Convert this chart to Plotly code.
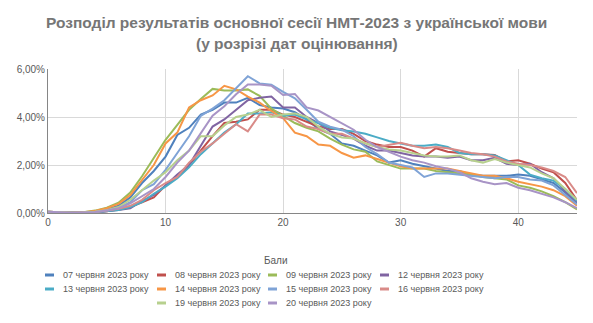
import plotly.graph_objects as go

scores = list(range(46))

names = ["07 червня 2023 року", "08 червня 2023 року", "09 червня 2023 року", "12 червня 2023 року",
         "13 червня 2023 року", "14 червня 2023 року", "15 червня 2023 року", "16 червня 2023 року",
         "19 червня 2023 року", "20 червня 2023 року"]

colors = ["#4F81BD", "#C0504D", "#9BBB59", "#8064A2", "#4BACC6", "#F79646",
          "#7FA3D6", "#D98B88", "#B7D08E", "#A894C6"]

title_lines = ["Розподіл результатів основної сесії НМТ-2023 з української мови",
               "(у розрізі дат оцінювання)"]

s07 = [0.05,0.02,0.01,0.02,0.05,0.15, 0.3,0.65,1.25,1.75,2.35,3.25,3.55,
       4.1,4.3,4.6,4.6,4.8,4.5,4.4, 4.35,4.2,3.9,3.5,3.3,2.9,2.8,2.6,
       2.4,2.1,2.2,2.05,1.95,1.85,1.75,1.75, 1.6,1.55,1.55,1.55,1.6,1.55,1.4,1.25,0.85,0.4]
s08 = [0.04,0.02,0.01,0.01,0.03,0.07, 0.15,0.25,0.45,0.65,1.15,1.5,2.0,
       2.6,3.2,3.75,3.8,3.9,4.3,4.3, 4.1,4.0,3.8,3.6,3.5,3.5,3.3,3.0,
       2.85,2.75,2.75,2.6,2.35,2.7,2.55,2.5, 2.45,2.45,2.42,2.15,2.2,2.05,1.85,1.7,1.25,0.53]
s09 = [0.05,0.02,0.01,0.03,0.1,0.22, 0.43,0.85,1.53,2.29,3.05,3.67,4.3,
       4.75,5.17,5.1,5.1,5.15,4.88,4.35, 4.05,3.75,3.55,3.4,3.1,2.85,2.65,2.55,
       2.15,2.0,1.85,1.85,1.85,1.75,1.7,1.65, 1.6,1.5,1.45,1.4,1.15,1.05,0.9,0.7,0.45,0.15]
s12 = [0.04,0.02,0.01,0.01,0.03,0.06, 0.12,0.2,0.5,0.75,1.15,1.6,2.0,
       2.8,3.6,3.9,4.3,4.7,4.8,4.85, 4.4,4.4,4.0,3.75,3.4,3.25,3.1,2.8,
       2.6,2.6,2.5,2.4,2.35,2.35,2.3,2.35, 2.2,2.2,2.3,2.05,2.0,2.05,1.7,1.45,0.9,0.45]
s13 = [0.04,0.02,0.01,0.01,0.03,0.06, 0.12,0.25,0.45,0.8,1.1,1.45,1.9,
       2.45,2.9,3.35,3.7,4.15,4.15,4.2, 4.05,4.1,3.9,3.75,3.55,3.45,3.4,3.3,
       3.15,3.0,2.9,2.8,2.8,2.85,2.75,2.5, 2.45,2.45,2.4,2.2,2.0,1.6,1.45,1.35,1.0,0.5]
s14 = [0.05,0.02,0.01,0.03,0.08,0.2, 0.38,0.75,1.4,2.0,2.9,3.35,4.4,
       4.7,4.9,5.3,5.15,4.85,4.6,4.25, 3.95,3.35,3.2,2.85,2.8,2.5,2.3,2.4,
       2.25,2.1,1.95,1.85,1.85,1.85,1.85,1.75, 1.65,1.55,1.55,1.45,1.3,1.2,1.1,0.95,0.7,0.3]
s15 = [0.05,0.02,0.01,0.02,0.04,0.1, 0.2,0.45,0.95,1.2,1.8,2.5,3.2,
       4.05,4.35,4.7,5.2,5.7,5.4,5.35, 5.05,4.78,4.3,3.8,3.6,3.47,3.2,2.75,
       2.45,2.1,2.0,1.9,1.5,1.65,1.65,1.6, 1.55,1.5,1.45,1.5,1.5,1.4,1.35,1.15,0.75,0.35]
s16 = [0.05,0.02,0.01,0.02,0.04,0.1, 0.18,0.3,0.55,0.95,1.25,1.5,2.1,
       2.55,2.9,3.3,3.7,3.4,4.1,4.1, 3.95,3.9,3.6,3.5,3.3,3.3,3.1,2.9,
       2.75,2.85,2.93,2.8,2.7,2.75,2.7,2.6, 2.5,2.45,2.35,2.15,2.05,2.0,1.9,1.75,1.5,0.83]
s19 = [0.05,0.02,0.01,0.02,0.05,0.12, 0.25,0.55,0.95,1.35,1.7,2.2,2.6,
       3.2,3.2,3.65,4.0,4.1,4.3,4.0, 4.1,4.15,4.0,3.6,3.3,3.15,3.1,2.9,
       2.75,2.65,2.6,2.5,2.4,2.35,2.35,2.4, 2.2,2.1,2.25,2.1,2.0,1.9,1.65,1.45,1.0,0.55]
s20 = [0.05,0.02,0.01,0.02,0.04,0.1, 0.2,0.4,0.7,1.0,1.5,2.1,2.6,
       3.35,4.05,4.45,4.95,5.35,5.35,5.3, 4.92,4.96,4.4,4.27,4.0,3.75,3.47,3.05,
       2.75,2.55,2.35,2.2,2.1,1.95,1.85,1.7, 1.45,1.3,1.2,1.25,1.05,0.95,0.8,0.65,0.45,0.2]

series = [s07, s08, s09, s12, s13, s14, s15, s16, s19, s20]

fig = go.Figure()
for name, col, vals in zip(names, colors, series):
    fig.add_trace(go.Scatter(x=scores, y=[v / 100 for v in vals], mode="lines", name=name,
                             line=dict(color=col, width=2), showlegend=False))

FONT = "Liberation Sans"
W, H = 593, 323
ml, mr, mt, mb = 48, 16, 69, 110
pw, ph = W - ml - mr, H - mt - mb


def px2paper(px, py):
    return (px - ml) / pw, (H - mb - py) / ph


fig.update_layout(
    width=W, height=H,
    margin=dict(l=ml, r=mr, t=mt, b=mb),
    paper_bgcolor="white", plot_bgcolor="white",
    separators=", ",
    xaxis=dict(range=[0, 45], dtick=10, tick0=0, showgrid=True, gridcolor="#D9D9D9", gridwidth=1,
               showline=True, linecolor="#868686", linewidth=1, zeroline=False, ticks="",
               tickfont=dict(family=FONT, size=10, color="#595959")),
    yaxis=dict(range=[0, 0.06], dtick=0.02, tickformat=".2%", showgrid=True, gridcolor="#D9D9D9",
               gridwidth=1, showline=True, linecolor="#868686", linewidth=1, zeroline=False, ticks="",
               tickfont=dict(family=FONT, size=10, color="#595959")),
    font=dict(family=FONT),
)

# title (two lines)
for line, ty in zip(title_lines, [22, 44]):
    tx, tyy = px2paper(W / 2, ty)
    fig.add_annotation(text="<b>%s</b>" % line, xref="paper", yref="paper", x=tx, y=tyy,
                       xanchor="center", yanchor="middle", showarrow=False,
                       font=dict(family=FONT, size=15.5, color="#767676"))

# axis title
ax, ay = px2paper(276, 260)
fig.add_annotation(text="Бали", xref="paper", yref="paper", x=ax, y=ay, xanchor="center",
                   yanchor="middle", showarrow=False, font=dict(family=FONT, size=10, color="#595959"))

# custom legend
col_x = [45, 157, 268, 380]
row_y = [275, 289, 303]
for i, (name, col) in enumerate(zip(names, colors)):
    r = i // 4
    c = i % 4
    if r == 2:
        c += 1
    px, py = col_x[c], row_y[r]
    x0, y0 = px2paper(px, py)
    x1, _ = px2paper(px + 9, py)
    fig.add_shape(type="line", xref="paper", yref="paper", x0=x0, x1=x1, y0=y0, y1=y0,
                  line=dict(color=col, width=3))
    tx, _ = px2paper(px + 16, py)
    fig.add_annotation(text=name, xref="paper", yref="paper", x=tx, y=y0,
                       xanchor="left", yanchor="middle", showarrow=False,
                       font=dict(family=FONT, size=9, color="#595959"))

fig.write_html("out.html")
